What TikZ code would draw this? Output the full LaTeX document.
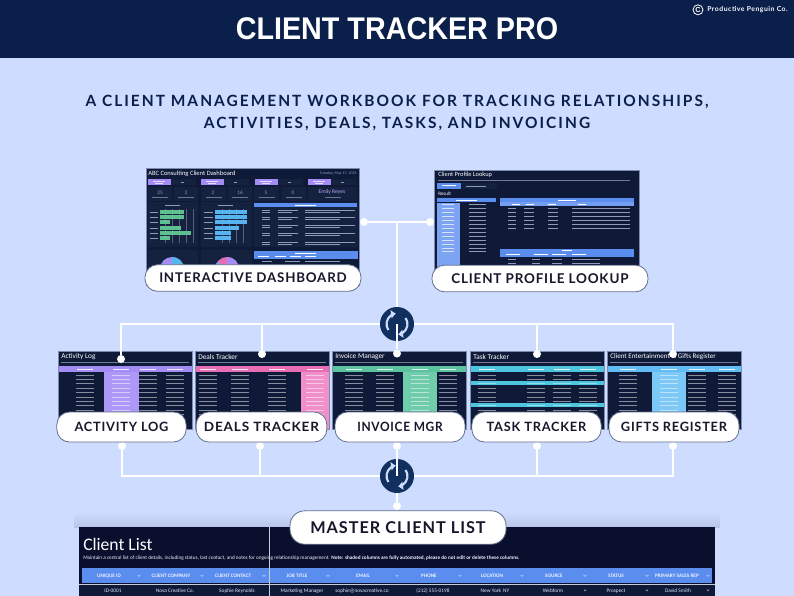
\documentclass[tikz,border=0pt]{standalone}
\usepackage{fontspec}
\usepackage{graphicx}
\usetikzlibrary{arrows.meta,calc}
\setmainfont{Carlito}
\newfontfamily\titlefont{Liberation Sans}
\newfontfamily\subfont[LetterSpace=13]{Lato}
\newfontfamily\labfont[LetterSpace=6]{Lato}
\newfontfamily\copyfont[LetterSpace=8]{Lato}
\newcommand\fs[1]{\fontsize{#1}{#1}\selectfont}
\definecolor{band}{HTML}{0B1F4B}
\definecolor{bg}{HTML}{CDDCFF}
\definecolor{hubc}{HTML}{12305F}
\definecolor{navy}{HTML}{0E1A38}
\definecolor{navyb}{HTML}{0A0F2E}
\definecolor{cardc}{HTML}{15223F}
\definecolor{barc}{HTML}{8F9AB5}
\definecolor{linec}{HTML}{C8CDD8}
\definecolor{edge}{HTML}{7C8BAE}
\definecolor{lav}{HTML}{A48CF5}
\definecolor{lavb}{HTML}{AE98F7}
\definecolor{pinkc}{HTML}{E86DB5}
\definecolor{pinkb}{HTML}{F08FCA}
\definecolor{greenc}{HTML}{5CC3A0}
\definecolor{greenb}{HTML}{6FCDAB}
\definecolor{cyanc}{HTML}{4EC5DE}
\definecolor{skyc}{HTML}{62BDF5}
\definecolor{skyb}{HTML}{7CC8F7}
\definecolor{blueh}{HTML}{5B8DEF}
\definecolor{gbar}{HTML}{5FC08F}
\definecolor{bbar}{HTML}{56B4F0}
\definecolor{ink}{HTML}{17172B}
\tikzset{
  x=0.75pt,y=-0.75pt,
  conn/.style={draw=white,line width=1.9pt},
  dotn/.style={circle,fill=white,inner sep=0pt,minimum size=6pt},
  hubn/.style={circle,fill=hubc,inner sep=0pt,minimum size=25.5pt},
  icon/.style={draw=bg,line width=1.6pt,-{Triangle[length=3.4pt,width=6pt]}},
  lab/.style={rounded corners=9.5pt,draw=edge!80!black,line width=0.6pt,fill=white,inner sep=0pt,text=ink,font=\labfont\bfseries\fs{9.6}},
  thumb/.style={fill=navy,draw=edge,line width=0.7pt},
  ttl/.style={anchor=west,inner sep=0pt,text=white},
  rowbar/.style={fill=white,fill opacity=0.5},
  tinyt/.style={inner sep=0pt,text=barc,font=\bfseries\fs{3}},
  hd/.style={anchor=base,inner sep=0pt,text=white!88!blueh,font=\bfseries\fs{3.9}},
  cell/.style={anchor=base,inner sep=0pt,text=white!82!blueh,font=\fs{4}},
}
% x0, title, colour, stripe colour, stripe left, stripe width, column centres
\newcommand\tracker[7]{%
  \path[thumb] (#1,351) rectangle ({#1+134},429);
  \node[ttl,font=\fs{5.5}] (title#1) at ({#1+3},356.5) {#2};
  \fill[barc!75!navy] ({#1+3},361.6) rectangle ({#1+131},362.6);
  \fill[#3] ({#1+1},366) rectangle ({#1+134},372);
  \fill[#4] (#5,372) rectangle ({#5+#6},429);
  \foreach \c in {#7} {
    \fill[white,fill opacity=0.85] ({\c-8},368.5) rectangle ({\c+8},369.5);
    \foreach \r in {0,...,11} {
      \fill[rowbar] ({\c-9},{374.6+4.4*\r}) rectangle ({\c+9},{375.6+4.4*\r});
    }
  }
}
\newcommand\tinyarrow[2]{\fill[#2] ({#1-2.2},574.8) -- ({#1+2.2},574.8) -- (#1,577.2) -- cycle;}
\begin{document}
\begin{tikzpicture}
\useasboundingbox (0,0) rectangle (794,596);
\fill[bg] (0,0) rectangle (794,596);
\fill[band] (0,0) rectangle (794,57.5);
\node[inner sep=0pt,text=white,font=\titlefont\bfseries\fs{23.5}] (maintitle) at (397,29) {\scalebox{0.917}[1]{CLIENT TRACKER PRO}};
\node[circle,draw=white,line width=0.6pt,inner sep=0.7pt,text=white,font=\titlefont\bfseries\fs{5.5}] (copymark) at (698,9.8) {C};
\node[anchor=west,inner sep=0pt,text=white!90!bg,font=\copyfont\bfseries\fs{5.1}] (copytext) at (707,9.8) {Productive Penguin Co.};
\node[inner sep=0pt,text=band,font=\subfont\bfseries\fs{11.6}] (sub1) at (397,102.3) {A CLIENT MANAGEMENT WORKBOOK FOR TRACKING RELATIONSHIPS,};
\node[inner sep=0pt,text=band,font=\subfont\bfseries\fs{11.6}] (sub2) at (397,124.3) {ACTIVITIES, DEALS, TASKS, AND INVOICING};

% ---------- dashboard thumbnail
\path[thumb] (146,168) rectangle (359,285);
\node[ttl,font=\fs{4.9}] (dashtitle) at (148,173.3) {ABC Consulting Client Dashboard};
\node[inner sep=0pt,anchor=east,text=barc,font=\fs{3}] (dashdate) at (357,173.5) {Tuesday, May 17, 2025};
\foreach \x in {148,201,255,308} {
  \fill[lav] (\x,179) rectangle ({\x+22.5},185);
  \fill[white,fill opacity=0.7] ({\x+5},180.8) rectangle ({\x+17},181.5);
  \fill[white,fill opacity=0.7] ({\x+7},182.6) rectangle ({\x+15},183.3);
  \fill[cardc] ({\x+23},179) rectangle ({\x+48},185);
  \fill[barc] ({\x+33},181.6) rectangle ({\x+36},182.6);
}
\foreach \x/\w in {148/24,174/24,201/25,228/24,254/25,281/25,308/49} {
  \fill[cardc] (\x,187) rectangle ({\x+\w},201);
  \fill[barc!70!navy] ({\x+\w/2-8},196.5) rectangle ({\x+\w/2+8},197.3);
}
\foreach \x/\n in {160/25,186/2,213/2,240/16,266/5,293/0} {
  \node[tinyt,font=\fs{4}] (stat\x) at (\x,193) {\n};
}
\node[tinyt,text=lav!80!white,font=\fs{4.2}] (statname) at (332,192.5) {Emily Reyes};
\fill[cardc] (148,202) rectangle (198,247);
\fill[cardc] (201,202) rectangle (252,247);
\fill[cardc] (148,250) rectangle (198,285);
\fill[cardc] (201,250) rectangle (252,285);
\foreach \x in {165,172,179,186,193} { \draw[barc!55!navy,line width=0.25pt] (\x,209) -- (\x,243); }
\foreach \x in {222,229,236,243} { \draw[barc!55!navy,line width=0.25pt] (\x,209) -- (\x,243); }
\foreach \y/\w in {212/24,217/24,222/10,228/21,233/31,238/10} {
  \fill[gbar] (160,{\y-1.8}) rectangle ({160+\w},{\y+1.8});
  \fill[barc] (150,{\y-0.4}) rectangle (158,{\y+0.4});
}
\foreach \y/\w in {212/32,217/32,222/32,228/24,233/16,238/16} {
  \fill[bbar] (215,{\y-1.8}) rectangle ({215+\w},{\y+1.8});
  \fill[barc] (204,{\y-0.4}) rectangle (213,{\y+0.4});
}
\fill[barc] (165,204.5) rectangle (180,205.5);
\fill[barc] (218,204.5) rectangle (233,205.5);
\begin{scope}
  \clip (146,168) rectangle (359,285);
  \fill[lav] (172,269) circle[radius=12];
  \fill[bbar] (172,269) -- (172,257) arc[start angle=270,end angle=330,radius=12] -- cycle;
  \fill[gbar] (172,269) -- (182.4,263) arc[start angle=330,end angle=360,radius=12] -- cycle;
  \fill[pinkc] (227,269) circle[radius=12];
  \fill[lav] (227,269) -- (227,257) arc[start angle=270,end angle=340,radius=12] -- cycle;
  \fill[bbar] (227,269) -- (215,269) arc[start angle=180,end angle=215,radius=12] -- cycle;
\end{scope}
\fill[cardc] (254,202) rectangle (358,247);
\fill[blueh] (254,203) rectangle (357,207);
\fill[white] (295,204.6) rectangle (316,205.4);
\foreach \y in {209.5,217,225,233,241.5} {
  \fill[barc] (262,\y) rectangle (270,{\y+0.8});
  \fill[barc] (262,{\y+2}) rectangle (270,{\y+2.8});
  \fill[barc] (278,\y) rectangle (298,{\y+0.8});
  \fill[barc] (278,{\y+2}) rectangle (292,{\y+2.8});
  \fill[barc] (305,\y) rectangle (355,{\y+0.8});
  \fill[barc] (305,{\y+2}) rectangle (340,{\y+2.8});
}
\fill[blueh] (254,251) rectangle (358,259);
\fill[white] (295,252.5) rectangle (316,253.3);
\foreach \x in {258,275,290,305} { \fill[white] (\x,256) rectangle ({\x+11},256.8); }
\fill[barc] (262,260.5) rectangle (272,261.3);
\fill[barc] (285,260.5) rectangle (300,261.3);
\fill[barc] (305,260.5) rectangle (340,261.3);

% ---------- profile thumbnail
\path[thumb] (434,170) rectangle (639,277);
\node[ttl,font=\fs{4.8}] (proftitle) at (438,175) {Client Profile Lookup};
\fill[barc!75!navy] (438,179.6) rectangle (630,180.4);
\fill[blueh] (437,183) rectangle (461,189);
\fill[white] (442,185.4) rectangle (456,186.2);
\fill[cardc] (462,183) rectangle (497,189);
\fill[barc] (466,185.6) rectangle (486,186.4);
\node[ttl,font=\fs{3.8}] (profresult) at (438,194) {Result};
\fill[blueh] (437,198) rectangle (496,202);
\fill[white] (456,199.6) rectangle (477,200.4);
\fill[blueh!80!white] (437,202.5) rectangle (460,277);
\fill[blueh] (500,198) rectangle (634,202);
\fill[white] (558,199.6) rectangle (576,200.4);
\fill[blueh!85!white] (500,202.3) rectangle (634,206);
\foreach \x in {512,526,548,578} { \fill[white] (\x,203.8) rectangle ({\x+8},204.5); }
\foreach \y in {204,208,212,216,220,224,228,232,236,240,243.5,247.5,251} {
  \fill[barc] (469,\y) rectangle (486,{\y+0.8});
  \fill[white!75!blueh] (442,\y) rectangle (454,{\y+0.8});
}
\foreach \y in {207.5,211.5,215.5,219.5,223.5,227.5} {
  \fill[barc] (508,\y) rectangle (516,{\y+0.8});
  \fill[barc] (524,\y) rectangle (534,{\y+0.8});
  \fill[barc] (548,\y) rectangle (558,{\y+0.8});
  \fill[barc] (572,\y) rectangle (630,{\y+0.8});
}
\fill[blueh] (500,249) rectangle (634,257);
\fill[white] (562,250.4) rectangle (572,251.2);
\foreach \x in {506,534,552,572} { \fill[white] (\x,254.4) rectangle ({\x+14},255.2); }
\foreach \y in {258.8,262.6} {
  \fill[barc] (508,\y) rectangle (516,{\y+0.8});
  \fill[barc] (532,\y) rectangle (540,{\y+0.8});
  \fill[barc] (552,\y) rectangle (562,{\y+0.8});
  \fill[barc] (572,\y) rectangle (600,{\y+0.8});
}

% ---------- tracker thumbnails
\tracker{58}{Activity Log}{lav}{lavb}{104}{34.5}{85,121,148,175}
\tracker{195}{Deals Tracker}{pinkc}{pinkb}{301}{28}{208,240,277,315}
\tracker{332}{Invoice Manager}{greenc}{greenb}{403}{34}{354,385,420,448}
\tracker{470}{Task Tracker}{cyanc}{cyanc}{470}{0}{487,536,562,588}
\fill[cyanc] (471,381) rectangle (604,385.4);
\fill[cyanc] (471,403) rectangle (604,407.4);
\foreach \c in {487,536,562,588} {
  \fill[white,fill opacity=0.4] ({\c-9},382.8) rectangle ({\c+9},383.8);
  \fill[white,fill opacity=0.4] ({\c-9},404.8) rectangle ({\c+9},405.8);
}
\tracker{607}{\fs{5.3}Client Entertainment \& Gifts Register}{skyc}{skyb}{652}{34}{628,669,697,727}

% ---------- master table
\shade[top color=bg,bottom color=bg!72!edge] (74,512) rectangle (720,527);
\fill[navyb] (79,527) rectangle (715,596);
\node[ttl,font=\fs{13.2}] (listtitle) at (83,544) {Client List};
\node[anchor=west,inner sep=0pt,text=white!90!blueh,font=\fs{3.9}] (listsub) at (83,558.5) {Maintain a central list of client details, including status, last contact, and notes for ongoing relationship management. \textbf{Note: shaded columns are fully automated, please do not edit or delete these columns.}};
\fill[blueh] (82,568) rectangle (712,583);
\fill[navy] (79,585) rectangle (715,596);
\foreach \x/\t in {109/UNIQUE ID,171/CLIENT COMPANY,233/CLIENT CONTACT,297/JOB TITLE,363/EMAIL,429/PHONE,492/LOCATION,554/SOURCE,616/STATUS,677/PRIMARY SALES REP} {
  \node[hd] (head\x) at (\x,577.3) {\t};
}
\foreach \x in {139,202,264,328,397,460,522,585,647,708} { \tinyarrow{\x}{white!35!blueh} }
\foreach \x/\t in {113/ID-0001,175/Nova Creative Co.,237/Sophie Reynolds,302/Marketing Manager,362/sophie@novacreative.co,433/(212) 555-0198,495/New York\, NY,553/Webform,616/Prospect,678/David Smith} {
  \node[cell] (row\x) at (\x,592.5) {\t};
}
\fill[barc] (583.5,589.6) -- (586.5,589.6) -- (585,591.4) -- cycle;
\fill[barc] (645.5,589.6) -- (648.5,589.6) -- (647,591.4) -- cycle;
\fill[barc] (706.5,589.6) -- (709.5,589.6) -- (708,591.4) -- cycle;
\draw[linec,line width=0.7pt] (79,584.3) -- (715,584.3);
\draw[linec,line width=0.7pt] (269.5,527) -- (269.5,596);

% ---------- connectors
\coordinate (junction) at (397,222);
\node[dotn] (dotdash) at (364,222) {};
\node[dotn] (dotprof) at (430,222) {};
\node[dotn] (ta) at (121,359) {};
\node[dotn] (tb) at (262,354) {};
\node[dotn] (tc) at (397,353.5) {};
\node[dotn] (td) at (537,354) {};
\node[dotn] (te) at (673,354) {};
\node[dotn] (ba) at (122,446) {};
\node[dotn] (bb) at (260,446) {};
\node[dotn] (bc) at (397,446) {};
\node[dotn] (bd) at (537,446) {};
\node[dotn] (be) at (673,446) {};
\node[dotn] (dotmaster) at (397,506) {};
\node[hubn] (hubtop) at (397,324) {};
\node[hubn] (hubbot) at (397,476) {};
\draw[conn] (dotdash) -- (dotprof);
\draw[conn] (junction) -- (hubtop);
\foreach \n in {ta,tb,tc,td,te} { \draw[conn] (hubtop) -| (\n); }
\foreach \n in {ba,bb,bc,bd,be} { \draw[conn] (hubbot) -| (\n); }
\draw[conn] (hubbot) -- (dotmaster);
\foreach \h in {hubtop,hubbot} {
  \draw[icon] ([shift={(145:10.5)}]\h.center) arc[start angle=145,end angle=262,radius=10.5];
  \draw[icon] ([shift={(325:10.5)}]\h.center) arc[start angle=325,end angle=442,radius=10.5];
}

% ---------- labels
\node[lab,minimum width=162pt,minimum height=20pt,font=\labfont\bfseries\fs{10}] (labdash) at (253,278) {INTERACTIVE DASHBOARD};
\node[lab,minimum width=162pt,minimum height=20pt,font=\labfont\bfseries\fs{10.1}] (labprof) at (540,278.5) {CLIENT PROFILE LOOKUP};
\node[lab,minimum width=97pt,minimum height=22.5pt] (laba) at (121.5,427) {ACTIVITY LOG};
\node[lab,minimum width=98pt,minimum height=22.5pt] (labb) at (261.5,427) {\scalebox{1.06}[1]{DEALS TRACKER}};
\node[lab,minimum width=97.5pt,minimum height=22.5pt] (labc) at (400,427) {\scalebox{0.93}[1]{INVOICE MGR}};
\node[lab,minimum width=97pt,minimum height=22.5pt] (labd) at (536.5,427) {TASK TRACKER};
\node[lab,minimum width=97.5pt,minimum height=22.5pt] (labe) at (674,427) {GIFTS REGISTER};
\node[lab,rounded corners=11pt,minimum width=162pt,minimum height=25pt,font=\labfont\bfseries\fs{12.2}] (labm) at (398,527.5) {MASTER CLIENT LIST};
\end{tikzpicture}
\end{document}
